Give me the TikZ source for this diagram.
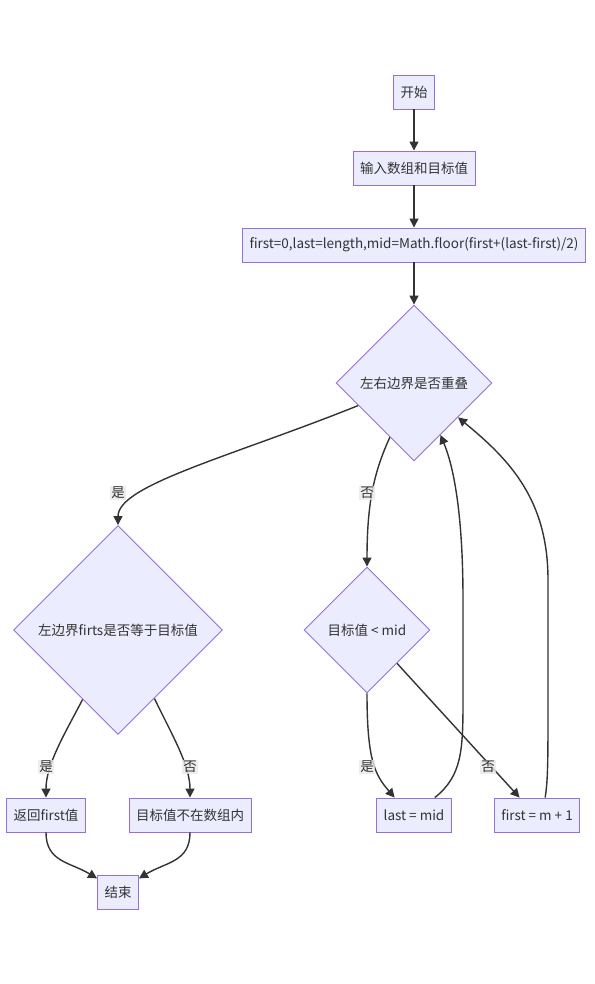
\documentclass[tikz,border=0pt]{standalone}
\usepackage{fontspec}
\usepackage{tikz}
\usetikzlibrary{shapes.geometric}
\usetikzlibrary{arrows.meta}
\newfontfamily\cjk{Noto Sans CJK SC}
\newcommand{\nodefont}{\cjk\fontsize{13.5}{16}\selectfont}
\definecolor{boxfill}{HTML}{ECECFF}
\definecolor{boxline}{HTML}{9370DB}
\definecolor{edgeline}{HTML}{333333}
\definecolor{labelbg}{HTML}{E8E8E8}
\tikzstyle{block} = [rectangle, draw=boxline, fill=boxfill, line width=0.9pt,
    inner xsep=7pt, minimum height=34pt, text=edgeline, font=\nodefont]
\tikzstyle{decision} = [diamond, aspect=1, draw=boxline, fill=boxfill,
    line width=0.9pt, inner sep=0pt, text=edgeline, font=\nodefont]
\tikzstyle{line} = [draw=edgeline, line width=1.4pt, -{Triangle[length=9pt,width=9pt]}]
\tikzstyle{lbl} = [fill=labelbg, fill opacity=0.8, text opacity=1, inner sep=1pt,
    text=edgeline, font=\nodefont]

\begin{document}
\begin{tikzpicture}[x=1pt,y=-1pt]
  \useasboundingbox (0,0) rectangle (594,984);
  % nodes
  \node [block](start) at (414,92) {开始};
  \node [block](input) at (414,168) {输入数组和目标值};
  \node [block](init) at (414,245) {first=0,last=length,mid=Math.floor(first+(last-first)/2)};
  \node [decision, minimum size=156pt](overlap) at (414,383) {左右边界是否重叠};
  \node [decision, minimum size=209pt](leftcheck) at (118,630) {左边界firts是否等于目标值};
  \node [decision, minimum size=126pt](less) at (367,630) {目标值 < mid};
  \node [block](found) at (46,815) {返回first值};
  \node [block](notfound) at (190,815) {目标值不在数组内};
  \node [block](stop) at (118,892) {结束};
  \node [block](moveleft) at (414,815) {last = mid};
  \node [block](moveright) at (537,815) {first = m + 1};
  % edges
  \path [line] (start) -- (input);
  \path [line] (input) -- (init);
  \path [line] (init) -- (overlap);
  \path [line] (overlap.202) .. controls (230,457) and (118,485) .. (leftcheck.north);
  \path [line] (overlap.246) .. controls (375,470) and (367,500) .. (less.north);
  \path [line] (leftcheck.243) .. controls (64,735) and (46,765) .. (found.north);
  \path [line] (leftcheck.298) .. controls (172,735) and (190,765) .. (notfound.north);
  \path [line] (found.south) .. controls (46,862) and (70,862) .. (stop.147);
  \path [line] (notfound.south) .. controls (190,862) and (166,862) .. (stop.33);
  \path [line] (less.south) .. controls (367,760) and (375,775) .. (moveleft.138);
  \path [line] (less.312) -- (moveright.135);
  \path [line] (moveleft.40) .. controls (462,776) and (463,750) .. (463,700)
    -- (463,600) .. controls (463,520) and (455,470) .. (overlap.297);
  \path [line] (moveright.65) .. controls (548,780) and (548,760) .. (548,700)
    -- (548,580) .. controls (548,500) and (510,460) .. (overlap.322);
  % labels
  \node [lbl](yesleft) at (118,493) {是};
  \node [lbl](noleft) at (367,493) {否};
  \node [lbl](yesfound) at (46,767) {是};
  \node [lbl](nofound) at (190,767) {否};
  \node [lbl](yesless) at (367,767) {是};
  \node [lbl](noless) at (488,767) {否};
\end{tikzpicture}
\end{document}
